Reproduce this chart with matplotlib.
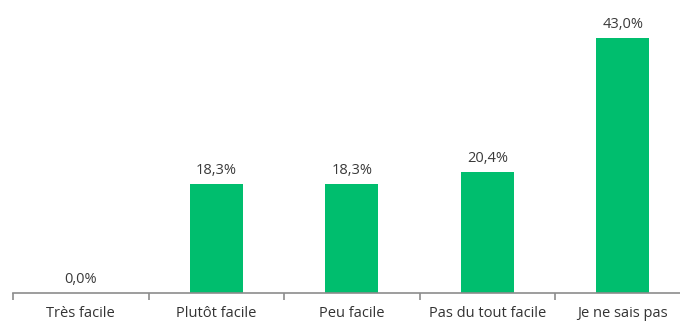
import matplotlib
matplotlib.use("Agg")
import matplotlib.pyplot as plt
from matplotlib.ticker import FixedLocator

categories = ["Très facile", "Plutôt facile", "Peu facile", "Pas du tout facile", "Je ne sais pas"]
values = [0.0, 18.3, 18.3, 20.4, 43.0]
labels = ["0,0%", "18,3%", "18,3%", "20,4%", "43,0%"]

plt.rcParams['font.family'] = ['Open Sans', 'DejaVu Sans']

W, H = 680, 322
fig = plt.figure(figsize=(W/100, H/100), dpi=100)
left = 13/W
bottom = (H-292.5)/H
top = 5/H
ax = fig.add_axes([left, bottom, 1-left, 1-bottom-top])

green = "#00BE6E"
x = list(range(len(categories)))
ax.bar(x, values, width=0.39, color=green, zorder=2)
for xi, v, lab in zip(x, values, labels):
    ax.text(xi, v + 1.0, lab, ha="center", va="bottom", fontsize=10.5, color="#3a3a3a")

ax.set_xlim(-0.5, -0.5 + (W - 13) / 135.5)
ax.set_ylim(0, (292.5-5)/ (255/43))

for s in ["top", "right", "left"]:
    ax.spines[s].set_visible(False)
ax.spines["bottom"].set_color("#8c8c8c")
ax.spines["bottom"].set_linewidth(1.2)
ax.set_yticks([])
ax.set_xticks(x)
ax.set_xticklabels(categories, fontsize=10.5, color="#333333")
ax.tick_params(axis="x", which="major", length=0, pad=10)
ax.xaxis.set_minor_locator(FixedLocator([-0.5, 0.5, 1.5, 2.5, 3.5, 4.5]))
ax.tick_params(axis="x", which="minor", length=5, width=1.2, color="#8c8c8c")

fig.savefig("out.png", dpi=100)
